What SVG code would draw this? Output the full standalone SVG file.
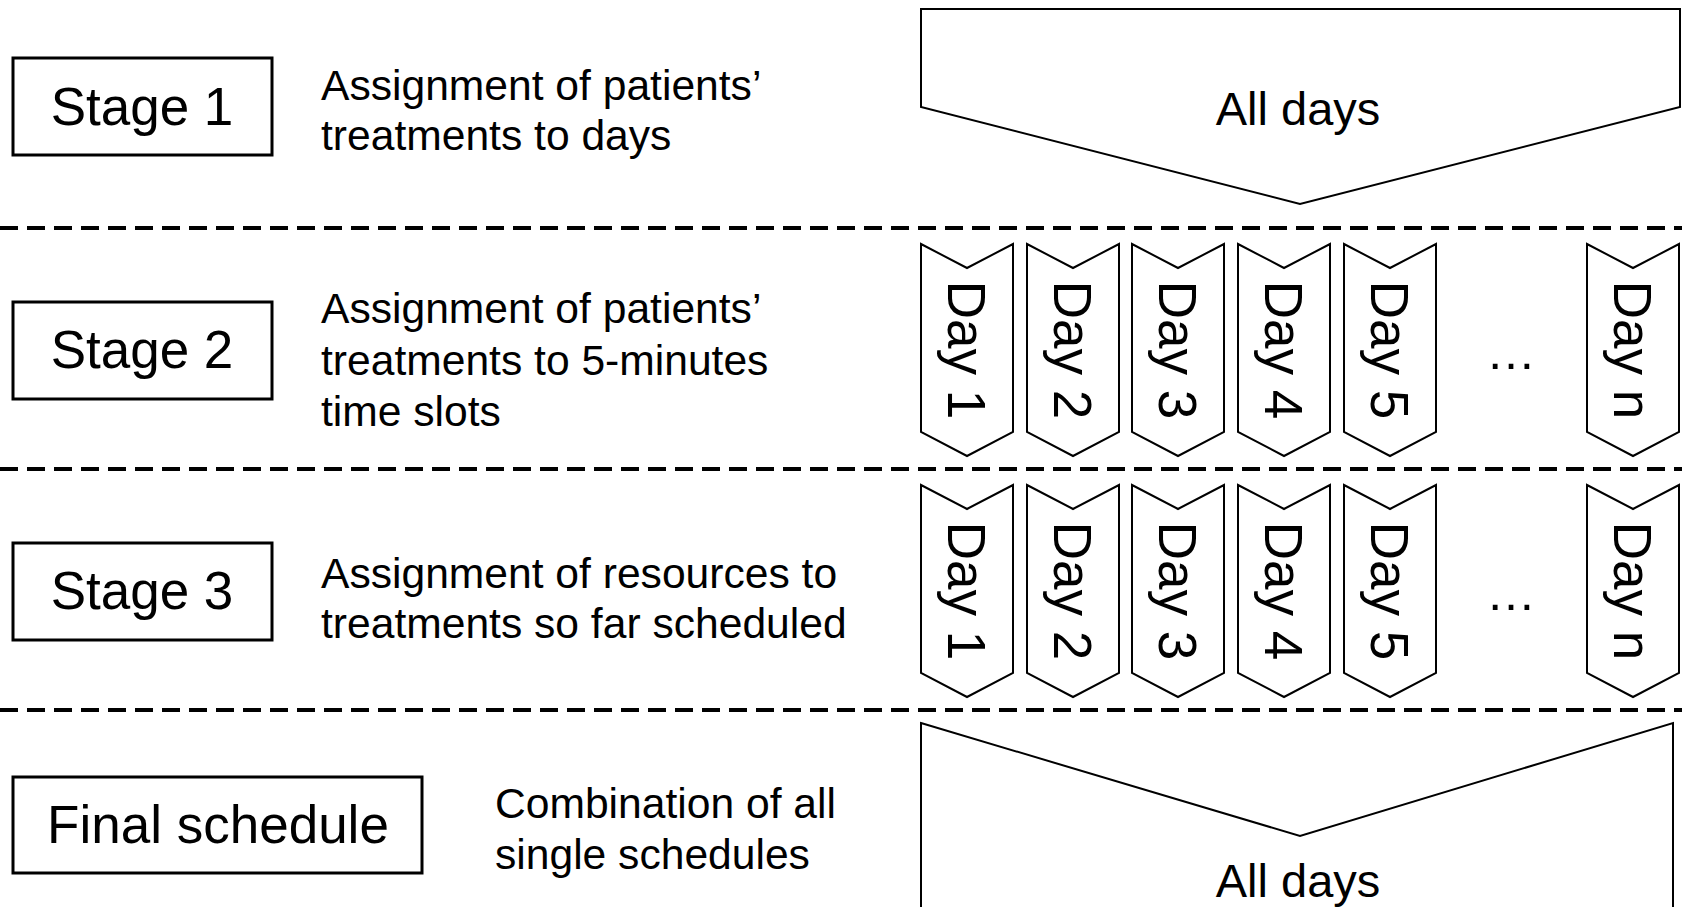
<svg xmlns="http://www.w3.org/2000/svg" xmlns:xlink="http://www.w3.org/1999/xlink" width="1685" height="907" viewBox="0 0 1685 907">
  <style>
    text { font-family: "Liberation Sans", Arial, sans-serif; fill: #000; }
    .box { fill: #fff; stroke: #000; stroke-width: 3; }
    .shape { fill: #fff; stroke: #000; stroke-width: 2; stroke-linejoin: miter; }
    .sep { stroke: #000; stroke-width: 4; stroke-dasharray: 18 9; fill: none; }
    .label { font-size: 53px; text-anchor: middle; }
    .desc { font-size: 42.6px; }
    .day { font-size: 53px; text-anchor: middle; }
    .big { font-size: 47px; text-anchor: middle; }
    .dots { font-size: 50px; text-anchor: middle; }
  </style>
  <defs>
    <!-- downward chevron used for each single day -->
    <polygon id="chev" points="0,0 46,24 92,0 92,188 46,212 0,188"/>
  </defs>

  <rect width="1685" height="907" fill="#fff"/>

  <!-- stage separators -->
  <g id="separators">
    <line class="sep" x1="0" y1="228" x2="1682" y2="228"/>
    <line class="sep" x1="0" y1="469" x2="1682" y2="469"/>
    <line class="sep" x1="0" y1="710" x2="1682" y2="710"/>
  </g>

  <!-- stage 1 -->
  <g id="stage1">
    <rect class="box" x="13" y="58" width="259" height="97"/>
    <text class="label" x="142" y="125">Stage 1</text>
    <text class="desc" x="321" y="100">Assignment of patients’</text>
    <text class="desc" x="321" y="150">treatments to days</text>
  </g>
  <g id="all-days-top">
    <polygon class="shape" points="921,9 1680,9 1680,107 1300,204 921,107"/>
    <text class="big" x="1298" y="125">All days</text>
  </g>

  <!-- stage 2 -->
  <g id="stage2">
    <rect class="box" x="13" y="302" width="259" height="97"/>
    <text class="label" x="142" y="368">Stage 2</text>
    <text class="desc" x="321" y="323">Assignment of patients’</text>
    <text class="desc" x="321" y="375">treatments to 5-minutes</text>
    <text class="desc" x="321" y="426">time slots</text>
  </g>
  <g id="stage2-days">
    <g id="s2-day1"><use xlink:href="#chev" class="shape" x="921" y="244"/><text class="day" transform="translate(948,350) rotate(90)">Day 1</text></g>
    <g id="s2-day2"><use xlink:href="#chev" class="shape" x="1027" y="244"/><text class="day" transform="translate(1054,350) rotate(90)">Day 2</text></g>
    <g id="s2-day3"><use xlink:href="#chev" class="shape" x="1132" y="244"/><text class="day" transform="translate(1159,350) rotate(90)">Day 3</text></g>
    <g id="s2-day4"><use xlink:href="#chev" class="shape" x="1238" y="244"/><text class="day" transform="translate(1265,350) rotate(90)">Day 4</text></g>
    <g id="s2-day5"><use xlink:href="#chev" class="shape" x="1344" y="244"/><text class="day" transform="translate(1371,350) rotate(90)">Day 5</text></g>
    <text class="dots" x="1511" y="369">…</text>
    <g id="s2-dayn"><use xlink:href="#chev" class="shape" x="1587" y="244"/><text class="day" transform="translate(1614,350) rotate(90)">Day n</text></g>
  </g>

  <!-- stage 3 -->
  <g id="stage3">
    <rect class="box" x="13" y="543" width="259" height="97"/>
    <text class="label" x="142" y="609">Stage 3</text>
    <text class="desc" x="321" y="588">Assignment of resources to</text>
    <text class="desc" x="321" y="638">treatments so far scheduled</text>
  </g>
  <g id="stage3-days">
    <g id="s3-day1"><use xlink:href="#chev" class="shape" x="921" y="485"/><text class="day" transform="translate(948,591) rotate(90)">Day 1</text></g>
    <g id="s3-day2"><use xlink:href="#chev" class="shape" x="1027" y="485"/><text class="day" transform="translate(1054,591) rotate(90)">Day 2</text></g>
    <g id="s3-day3"><use xlink:href="#chev" class="shape" x="1132" y="485"/><text class="day" transform="translate(1159,591) rotate(90)">Day 3</text></g>
    <g id="s3-day4"><use xlink:href="#chev" class="shape" x="1238" y="485"/><text class="day" transform="translate(1265,591) rotate(90)">Day 4</text></g>
    <g id="s3-day5"><use xlink:href="#chev" class="shape" x="1344" y="485"/><text class="day" transform="translate(1371,591) rotate(90)">Day 5</text></g>
    <text class="dots" x="1511" y="610">…</text>
    <g id="s3-dayn"><use xlink:href="#chev" class="shape" x="1587" y="485"/><text class="day" transform="translate(1614,591) rotate(90)">Day n</text></g>
  </g>

  <!-- final schedule -->
  <g id="final">
    <rect class="box" x="13" y="777" width="409" height="96"/>
    <text class="label" x="218" y="843">Final schedule</text>
    <text class="desc" x="495" y="818">Combination of all</text>
    <text class="desc" x="495" y="869">single schedules</text>
  </g>
  <g id="all-days-bottom">
    <polygon class="shape" points="921,723 1300,836 1673,723 1673,912 921,912"/>
    <text class="big" x="1298" y="897">All days</text>
  </g>
</svg>
